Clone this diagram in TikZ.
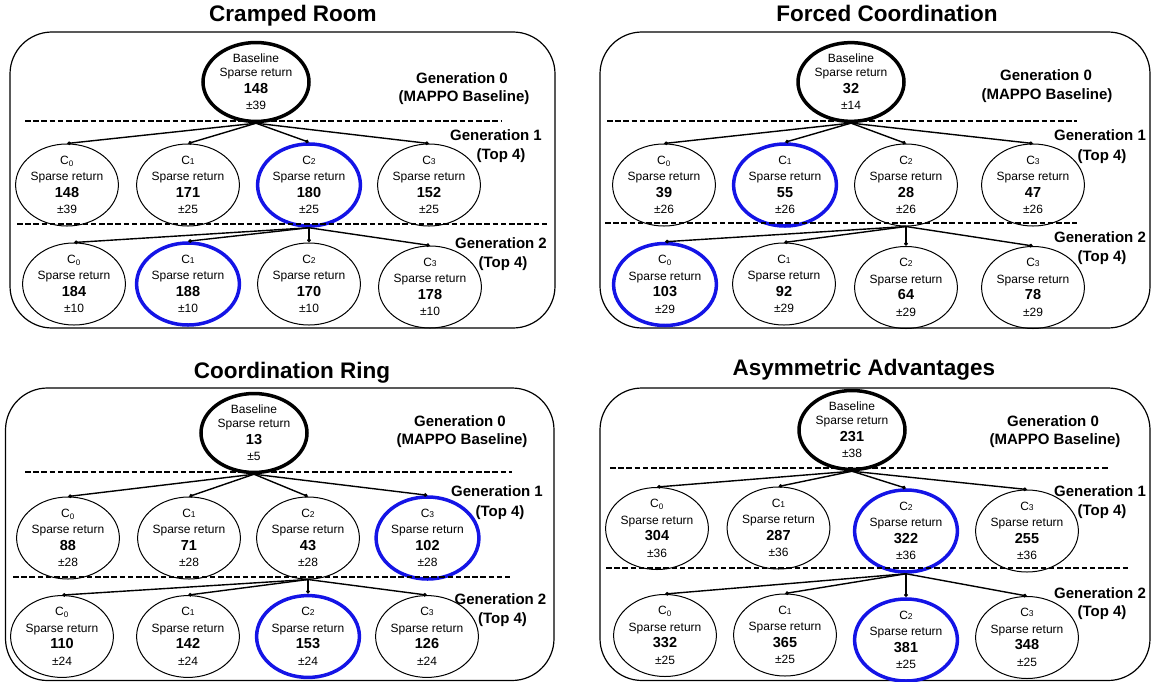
\documentclass[tikz,border=0pt]{standalone}
\usepackage{fontspec}
\setmainfont{Liberation Sans}
\usetikzlibrary{shapes.geometric,arrows.meta}
\definecolor{bestblue}{RGB}{20,20,230}
\newcommand{\Czero}{C\textsubscript{0}}
\newcommand{\Cnum}[1]{C{\fontsize{8.5}{8.5}\selectfont #1}}
\newcommand{\retv}[1]{{\fontsize{14.5}{16.5}\selectfont\bfseries #1}}
\tikzset{
  panel/.style={draw, line width=1.2pt, rounded corners=42pt},
  ttl/.style={font=\fontsize{22.5}{27}\selectfont\bfseries, anchor=base, inner sep=0pt},
  gen/.style={font=\fontsize{15}{18}\selectfont\bfseries, anchor=base, inner sep=0pt},
  cand/.style={ellipse, draw, line width=1pt, minimum width=101pt, minimum height=77pt,
    inner sep=0pt, align=center, font=\fontsize{12}{16.5}\selectfont},
  best/.style={cand, draw=bestblue, line width=3.5pt, minimum width=100pt, minimum height=74pt},
  rootnode/.style={cand, line width=3.5pt, minimum width=106pt, minimum height=78pt},
  link/.style={line width=1.4pt, -{Diamond[length=4.5pt,width=4pt]}},
  sep/.style={line width=1.6pt, dash pattern=on 5.5pt off 2.7pt},
}
\begin{document}
\begin{tikzpicture}[x=1pt,y=-1pt]
\useasboundingbox (0,0) rectangle (1151,682);

% ================= Cramped Room =================
\node[ttl] (tA) at (293,22) {Cramped Room};
\draw[panel] (10,32) rectangle (555,328);
\node[rootnode] (A0) at (256,82) {Baseline\\[-2.5pt]Sparse return\\\retv{148}\\±39};
\node[gen] (Ag0) at (462,83.5) {Generation 0};
\node[gen] (Ag0b) at (464,102) {(MAPPO Baseline)};
\node[gen] (Ag1) at (496,140.5) {Generation 1};
\node[gen] (Ag1b) at (501,159) {(Top 4)};
\node[gen] (Ag2) at (501,248.5) {Generation 2};
\node[gen] (Ag2b) at (503,267.5) {(Top 4)};
\node[cand] (A10) at (67,185) {\Czero\\Sparse return\\\retv{148}\\±39};
\node[cand] (A11) at (188,185) {\Cnum{1}\\Sparse return\\\retv{171}\\±25};
\node[best] (A12) at (309,185) {\Cnum{2}\\Sparse return\\\retv{180}\\±25};
\node[cand] (A13) at (429,185) {\Cnum{3}\\Sparse return\\\retv{152}\\±25};
\node[cand] (A20) at (74,284) {\Czero\\Sparse return\\\retv{184}\\±10};
\node[best] (A21) at (188,284) {\Cnum{1}\\Sparse return\\\retv{188}\\±10};
\node[cand] (A22) at (309,284) {\Cnum{2}\\Sparse return\\\retv{170}\\±10};
\node[cand] (A23) at (430,287) {\Cnum{3}\\Sparse return\\\retv{178}\\±10};
\coordinate (Ad1a) at (25,121); \coordinate (Ad1b) at (502,121);
\coordinate (Ad2a) at (17,224); \coordinate (Ad2b) at (547,224);
\draw[sep] (Ad1a) -- (Ad1b);
\draw[sep] (Ad2a) -- (Ad2b);
\foreach \i in {0,1,2,3}{
  \draw[link] (A0.south) -- (A1\i.north);
  \draw[link] (A12.south) -- (A2\i.north);
}

% ================= Forced Coordination =================
\node[ttl] (tB) at (887,22) {Forced Coordination};
\draw[panel] (600,32) rectangle (1150,328);
\node[rootnode] (B0) at (851,82) {Baseline\\[-2.5pt]Sparse return\\\retv{32}\\±14};
\node[gen] (Bg0) at (1046,80.5) {Generation 0};
\node[gen] (Bg0b) at (1047,99.5) {(MAPPO Baseline)};
\node[gen] (Bg1) at (1100,140.5) {Generation 1};
\node[gen] (Bg1b) at (1102,160.5) {(Top 4)};
\node[gen] (Bg2) at (1100,242.5) {Generation 2};
\node[gen] (Bg2b) at (1102,261.5) {(Top 4)};
\node[cand] (B10) at (664,185) {\Czero\\Sparse return\\\retv{39}\\±26};
\node[best] (B11) at (785,185) {\Cnum{1}\\Sparse return\\\retv{55}\\±26};
\node[cand] (B12) at (906,185) {\Cnum{2}\\Sparse return\\\retv{28}\\±26};
\node[cand] (B13) at (1033,185) {\Cnum{3}\\Sparse return\\\retv{47}\\±26};
\node[best] (B20) at (665,284.5) {\Czero\\Sparse return\\\retv{103}\\±29};
\node[cand] (B21) at (784,284) {\Cnum{1}\\Sparse return\\\retv{92}\\±29};
\node[cand] (B22) at (906,287.5) {\Cnum{2}\\Sparse return\\\retv{64}\\±29};
\node[cand] (B23) at (1033,287.5) {\Cnum{3}\\Sparse return\\\retv{78}\\±29};
\coordinate (Bd1a) at (607,121); \coordinate (Bd1b) at (1077,121);
\coordinate (Bd2a) at (605,223); \coordinate (Bd2b) at (1077,223);
\draw[sep] (Bd1a) -- (Bd1b);
\draw[sep] (Bd2a) -- (Bd2b);
\foreach \i in {0,1,2,3}{
  \draw[link] (B0.south) -- (B1\i.north);
  \draw[link] (B12.south) -- (B2\i.north);
}

% ================= Coordination Ring =================
\node[ttl] (tC) at (292,378) {Coordination Ring};
\draw[panel] (5.5,388) rectangle (554,680.5);
\node[rootnode] (C0) at (254,433) {Baseline\\[-2.5pt]Sparse return\\\retv{13}\\±5};
\node[gen] (Cg0) at (460,426.5) {Generation 0};
\node[gen] (Cg0b) at (462,444.5) {(MAPPO Baseline)};
\node[gen] (Cg1) at (497,496.5) {Generation 1};
\node[gen] (Cg1b) at (500,516.5) {(Top 4)};
\node[gen] (Cg2) at (500.5,604.5) {Generation 2};
\node[gen] (Cg2b) at (502.5,623.5) {(Top 4)};
\node[cand] (C10) at (68,538) {\Czero\\Sparse return\\\retv{88}\\±28};
\node[cand] (C11) at (189,538) {\Cnum{1}\\Sparse return\\\retv{71}\\±28};
\node[cand] (C12) at (308,538) {\Cnum{2}\\Sparse return\\\retv{43}\\±28};
\node[best] (C13) at (427.5,538) {\Cnum{3}\\Sparse return\\\retv{102}\\±28};
\node[cand] (C20) at (62,636.5) {\Czero\\Sparse return\\\retv{110}\\±24};
\node[cand] (C21) at (188,636.5) {\Cnum{1}\\Sparse return\\\retv{142}\\±24};
\node[best] (C22) at (308,636.5) {\Cnum{2}\\Sparse return\\\retv{153}\\±24};
\node[cand] (C23) at (427,636.5) {\Cnum{3}\\Sparse return\\\retv{126}\\±24};
\coordinate (Cd1a) at (25,472); \coordinate (Cd1b) at (512,472);
\coordinate (Cd2a) at (13,577); \coordinate (Cd2b) at (510,577);
\draw[sep] (Cd1a) -- (Cd1b);
\draw[sep] (Cd2a) -- (Cd2b);
\foreach \i in {0,1,2,3}{
  \draw[link] (C0.south) -- (C1\i.north);
  \draw[link] (C12.south) -- (C2\i.north);
}

% ================= Asymmetric Advantages =================
\node[ttl] (tD) at (864,375) {Asymmetric Advantages};
\draw[panel] (600,388) rectangle (1150,680.5);
\node[rootnode] (D0) at (852,430) {Baseline\\[-2.5pt]Sparse return\\\retv{231}\\±38};
\node[gen] (Dg0) at (1053,426.5) {Generation 0};
\node[gen] (Dg0b) at (1055,444.5) {(MAPPO Baseline)};
\node[gen] (Dg1) at (1100,496.5) {Generation 1};
\node[gen] (Dg1b) at (1102,515.5) {(Top 4)};
\node[gen] (Dg2) at (1100,598.5) {Generation 2};
\node[gen] (Dg2b) at (1102,616.5) {(Top 4)};
\node[cand] (D10) at (657,528.5) {\Czero\\Sparse return\\\retv{304}\\±36};
\node[cand] (D11) at (778.5,528) {\Cnum{1}\\Sparse return\\\retv{287}\\±36};
\node[best] (D12) at (906,531) {\Cnum{2}\\Sparse return\\\retv{322}\\±36};
\node[cand] (D13) at (1027,531) {\Cnum{3}\\Sparse return\\\retv{255}\\±36};
\node[cand] (D20) at (665,635.5) {\Czero\\Sparse return\\\retv{332}\\±25};
\node[cand] (D21) at (785,635) {\Cnum{1}\\Sparse return\\\retv{365}\\±25};
\node[best] (D22) at (906,640) {\Cnum{2}\\Sparse return\\\retv{381}\\±25};
\node[cand] (D23) at (1027,637.5) {\Cnum{3}\\Sparse return\\\retv{348}\\±25};
\coordinate (Dd1a) at (610,468); \coordinate (Dd1b) at (1110,468);
\coordinate (Dd2a) at (606,568); \coordinate (Dd2b) at (1130,568);
\draw[sep] (Dd1a) -- (Dd1b);
\draw[sep] (Dd2a) -- (Dd2b);
\foreach \i in {0,1,2,3}{
  \draw[link] (D0.south) -- (D1\i.north);
  \draw[link] (D12.south) -- (D2\i.north);
}
\end{tikzpicture}
\end{document}
